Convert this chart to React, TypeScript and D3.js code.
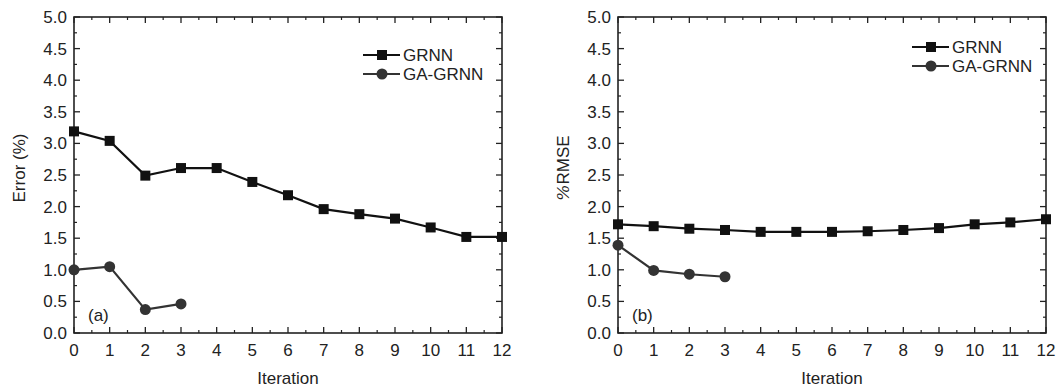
import * as d3 from "d3";

const iterations = [0, 1, 2, 3, 4, 5, 6, 7, 8, 9, 10, 11, 12];
const gaIterations = [0, 1, 2, 3];

const errorGrnn = [3.19, 3.04, 2.49, 2.61, 2.61, 2.39, 2.18, 1.96, 1.88, 1.81, 1.67, 1.52, 1.52];
const errorGaGrnn = [1.0, 1.05, 0.37, 0.46];

const rmseGrnn = [1.72, 1.69, 1.65, 1.63, 1.6, 1.6, 1.6, 1.61, 1.63, 1.66, 1.72, 1.75, 1.8];
const rmseGaGrnn = [1.39, 0.99, 0.93, 0.89];

const yTicks = [0, 0.5, 1, 1.5, 2, 2.5, 3, 3.5, 4, 4.5, 5];
const seriesNames = ["GRNN", "GA-GRNN"];

const FONT = "'Liberation Sans', Arial, sans-serif";

interface PanelProps {
  left: number;
  grnn: number[];
  ga: number[];
  yLabel: React.ReactNode;
  tag: string;
  legendX: number;
  legendY: number;
}

function Panel({ left, grnn, ga, yLabel, tag, legendX, legendY }: PanelProps) {
  const top = 17;
  const w = 428;
  const h = 316;
  const x = d3.scaleLinear().domain([0, 12]).range([0, w]);
  const y = d3.scaleLinear().domain([0, 5]).range([h, 0]);

  const line = d3
    .line<number>()
    .x((_, i) => x(i))
    .y((d) => y(d));

  const xMinor = d3.range(0.5, 12, 1);
  const yMinor = d3.range(0.25, 5, 0.5);
  const major = 6;
  const minor = 3;
  const fs = 17;

  return (
    <g transform={`translate(${left},${top})`} fontFamily={FONT}>
      {/* ticks, inward on all four sides */}
      {iterations.map((t) => (
        <g key={"xt" + t}>
          <line x1={x(t)} x2={x(t)} y1={h} y2={h - major} stroke="#222" strokeWidth={1.3} />
          <line x1={x(t)} x2={x(t)} y1={0} y2={major} stroke="#222" strokeWidth={1.3} />
          <text x={x(t)} y={h + 23} textAnchor="middle" fontSize={fs} fill="#222">
            {t}
          </text>
        </g>
      ))}
      {xMinor.map((t) => (
        <g key={"xm" + t}>
          <line x1={x(t)} x2={x(t)} y1={h} y2={h - minor} stroke="#222" strokeWidth={1.2} />
          <line x1={x(t)} x2={x(t)} y1={0} y2={minor} stroke="#222" strokeWidth={1.2} />
        </g>
      ))}
      {yTicks.map((t) => (
        <g key={"yt" + t}>
          <line x1={0} x2={major} y1={y(t)} y2={y(t)} stroke="#222" strokeWidth={1.3} />
          <line x1={w} x2={w - major} y1={y(t)} y2={y(t)} stroke="#222" strokeWidth={1.3} />
          <text x={-7} y={y(t) + 6} textAnchor="end" fontSize={fs} fill="#222">
            {t.toFixed(1)}
          </text>
        </g>
      ))}
      {yMinor.map((t) => (
        <g key={"ym" + t}>
          <line x1={0} x2={minor} y1={y(t)} y2={y(t)} stroke="#222" strokeWidth={1.2} />
          <line x1={w} x2={w - minor} y1={y(t)} y2={y(t)} stroke="#222" strokeWidth={1.2} />
        </g>
      ))}
      <rect x={0} y={0} width={w} height={h} fill="none" stroke="#222" strokeWidth={1.6} />

      <text x={w / 2} y={h + 51} textAnchor="middle" fontSize={fs} fill="#222">
        Iteration
      </text>
      <text
        transform={`translate(${-49},${h / 2 - 7}) rotate(-90)`}
        textAnchor="middle"
        fontSize={fs}
        fill="#222"
      >
        {yLabel}
      </text>
      <text x={14} y={h - 12} fontSize={fs} fill="#222">
        {tag}
      </text>

      {/* series */}
      <path d={line(grnn) ?? ""} fill="none" stroke="#111" strokeWidth={2.2} />
      {grnn.map((d, i) => (
        <rect key={"s" + i} x={x(iterations[i]) - 5} y={y(d) - 5} width={10} height={10} fill="#111" />
      ))}
      <path
        d={d3.line<number>().x((_, i) => x(gaIterations[i])).y((d) => y(d))(ga) ?? ""}
        fill="none"
        stroke="#333"
        strokeWidth={2.2}
      />
      {ga.map((d, i) => (
        <circle key={"c" + i} cx={x(gaIterations[i])} cy={y(d)} r={5.5} fill="#333" />
      ))}

      {/* legend */}
      {seriesNames.map((name, i) => {
        const ly = legendY + i * 19;
        return (
          <g key={name}>
            <line x1={legendX} x2={legendX + 37} y1={ly} y2={ly} stroke={i === 0 ? "#111" : "#333"} strokeWidth={2.2} />
            {i === 0 ? (
              <rect x={legendX + 14} y={ly - 5} width={10} height={10} fill="#111" />
            ) : (
              <circle cx={legendX + 19} cy={ly} r={5.5} fill="#333" />
            )}
            <text x={legendX + 40} y={ly + 6} fontSize={fs} fill="#222">
              {name}
            </text>
          </g>
        );
      })}
    </g>
  );
}

export default function App() {
  return (
    <svg width={1058} height={390} style={{ display: "block", position: "absolute", left: 0, top: 0 }}>
      <rect width={1058} height={390} fill="#fff" />
      <Panel
        left={74}
        grnn={errorGrnn}
        ga={errorGaGrnn}
        yLabel="Error (%)"
        tag="(a)"
        legendX={289}
        legendY={38}
      />
      <Panel
        left={618}
        grnn={rmseGrnn}
        ga={rmseGaGrnn}
        yLabel={
          <>
            <tspan fontStyle="italic" fontFamily="'DejaVu Serif', serif">%</tspan>
            <tspan>RMSE</tspan>
          </>
        }
        tag="(b)"
        legendX={294}
        legendY={30}
      />
    </svg>
  );
}
